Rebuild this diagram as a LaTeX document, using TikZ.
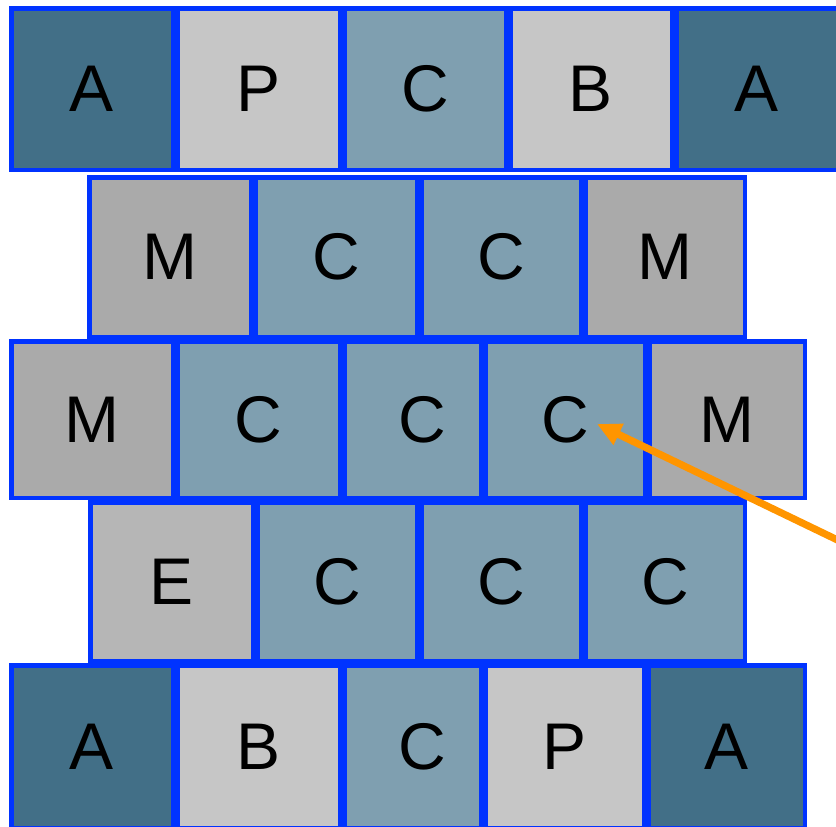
\documentclass[tikz,border=0pt]{standalone}
\usepackage{fontspec}
\setsansfont{Liberation Sans}
\usepackage{tikz}
\usetikzlibrary{arrows.meta}

\definecolor{bleubord}{HTML}{0033FF}
\definecolor{fonce}{HTML}{426F87}
\definecolor{moyen}{HTML}{7F9FB0}
\definecolor{clair}{HTML}{C6C6C6}
\definecolor{gris}{HTML}{AAAAAA}
\definecolor{grisclair}{HTML}{B6B6B6}
\definecolor{orange}{HTML}{FF9500}

\begin{document}
\begin{tikzpicture}[x=0.5pt,y=-0.5pt,
  cell/.style={draw=bleubord, line width=2.25pt, rectangle, inner sep=0pt,
    minimum width=80.75pt, font=\sffamily\fontsize{33pt}{40pt}\selectfont},
  rangA/.style={cell, minimum height=80.75pt},
  rangB/.style={cell, minimum height=79.75pt},
  rangC/.style={cell, minimum height=78.25pt},
  rangD/.style={cell, minimum height=79.25pt},
  rangE/.style={cell, minimum height=81.25pt}]

\useasboundingbox (0,0) rectangle (836,826);

% Rangée du haut
\node[rangA, fill=fonce] (a11) at (92,89) {A};
\node[rangA, fill=clair, minimum width=81.25pt] (p12) at (258.5,89) {P};
\node[rangA, fill=moyen] (c13) at (425,89) {C};
\node[rangA, fill=clair] (b14) at (591,89) {B};
\node[rangA, fill=fonce] (a15) at (757,89) {A};

% Deuxième rangée
\node[rangB, fill=gris] (m21) at (170,257) {M};
\node[rangB, fill=moyen] (c22) at (336,257) {C};
\node[rangB, fill=moyen, minimum width=79.75pt] (c23) at (501,257) {C};
\node[rangB, fill=gris, minimum width=79.75pt] (m24) at (665,257) {M};

% Rangée du milieu
\node[rangC, fill=gris] (m31) at (92,419.5) {M};
\node[rangC, fill=moyen, minimum width=81.25pt] (c32) at (258.5,419.5) {C};
\node[rangC, fill=moyen, minimum width=68.25pt] (c33) at (412.5,419.5) {\hspace*{10pt}C};
\node[rangC, fill=moyen, minimum width=79.75pt] (c34) at (565,419.5) {C};
\node[rangC, fill=gris, minimum width=77.75pt] (m35) at (727,419.5) {M};

% Quatrième rangée
\node[rangD, fill=grisclair, minimum width=81.25pt] (e41) at (171.5,581.5) {E};
\node[rangD, fill=moyen, minimum width=79.75pt] (c42) at (337,581.5) {C};
\node[rangD, fill=moyen, minimum width=79.75pt] (c43) at (501,581.5) {C};
\node[rangD, fill=moyen, minimum width=79.75pt] (c44) at (665,581.5) {C};

% Rangée du bas
\node[rangE, fill=fonce] (a51) at (92,746.5) {A};
\node[rangE, fill=clair, minimum width=81.25pt] (b52) at (258.5,746.5) {B};
\node[rangE, fill=moyen, minimum width=68.25pt] (c53) at (412.5,746.5) {\hspace*{10pt}C};
\node[rangE, fill=clair, minimum width=79.25pt] (p54) at (564.5,746.5) {P};
\node[rangE, fill=fonce, minimum width=78.25pt] (a55) at (726.5,746.5) {A};

% Flèche orange
\coordinate (depart) at (850,546);
\coordinate (pointe) at ([xshift=16pt,yshift=-2.25pt]c34.center);
\draw[-{Triangle[length=12pt,width=11pt]}, line width=3.6pt, orange]
  (depart) -- (pointe);

\end{tikzpicture}
\end{document}
